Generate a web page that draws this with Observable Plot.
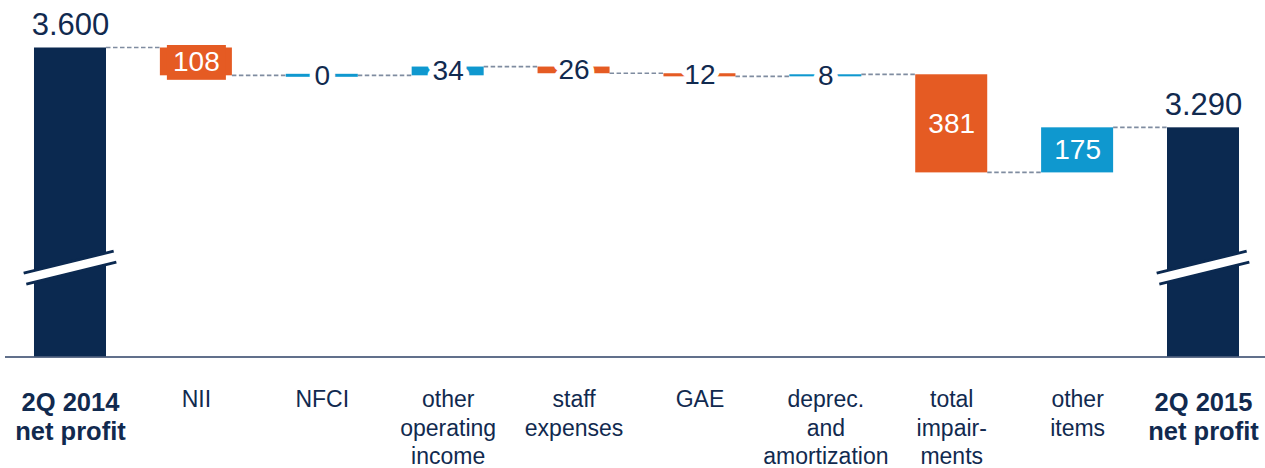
<!DOCTYPE html>
<html>
<head>
<meta charset="utf-8">
<script src="https://cdn.jsdelivr.net/npm/d3@7"></script>
<script src="https://cdn.jsdelivr.net/npm/@observablehq/plot@0.6"></script>
<style>
  html, body { margin: 0; padding: 0; background: #ffffff; }
  #chart svg { display: block; }
</style>
</head>
<body>
<div id="chart"></div>
<script>
// ---- data ----
const categories = ["2Q 2014 net profit", "NII", "NFCI", "other operating income", "staff expenses", "GAE", "deprec. and amortization", "total impairments", "other items", "2Q 2015 net profit"];
const tickLabels = ["2Q 2014\nnet profit", "NII", "NFCI", "other\noperating\nincome", "staff\nexpenses", "GAE", "deprec.\nand\namortization", "total\nimpair-\nments", "other\nitems", "2Q 2015\nnet profit"];
const kinds = ["total", "delta", "delta", "delta", "delta", "delta", "delta", "delta", "delta", "total"];
const values = [3600, -108, 0, 34, -26, -12, 8, -381, 175, 3290];
const axisBreakFloor = [2400];
const breakLevel = [2745];
const boxedLabels = ["NII"];

// ---- colours / fonts ----
const NAVY = "#0b2950";
const ORANGE = "#e55b23";
const BLUE = "#0f98cf";
const DASH = "#7f8ca0";
const TEXT = "#112a4f";
const FONT = "'Liberation Sans', Arial, Helvetica, sans-serif";

// ---- build waterfall rows ----
const fmt = d3.formatLocale({decimal: ",", thousands: ".", grouping: [3], currency: ["", ""]}).format(",");
let running = 0;
const rows = categories.map((cat, i) => {
  const v = values[i];
  let y1, y2;
  if (kinds[i] === "total") { y1 = axisBreakFloor[0]; y2 = v; running = v; }
  else { y1 = running; y2 = running + v; running = y2; }
  return {
    cat, label: tickLabels[i], kind: kinds[i], value: v, y1, y2, end: running,
    mid: (y1 + y2) / 2,
    fill: kinds[i] === "total" ? NAVY : (v < 0 ? ORANGE : BLUE),
    text: kinds[i] === "total" ? fmt(v) : String(Math.abs(v)),
    big: kinds[i] === "delta" && Math.abs(v) >= 100
  };
});
const totals = rows.filter(d => d.kind === "total");
const bigDeltas = rows.filter(d => d.big);
const smallDeltas = rows.filter(d => d.kind === "delta" && !d.big);
const zeroDeltas = rows.filter(d => d.kind === "delta" && d.value === 0);
const boxed = rows.filter(d => boxedLabels.includes(d.cat));
const boldRows = totals;
const plainRows = rows.filter(d => d.kind !== "total");

function bw(x) { return typeof x.bandwidth === "function" ? x.bandwidth() : x.bandwidth; }

// dashed connectors between bar edges
function connectors(index, scales) {
  const {x, y} = scales;
  const w = bw(x);
  const g = d3.create("svg:g")
    .attr("stroke", DASH).attr("stroke-width", 1.7).attr("stroke-dasharray", "4.5,2.5");
  for (let i = 0; i < rows.length - 1; i++) {
    const yy = y(rows[i].end);
    g.append("line")
      .attr("x1", x(rows[i].cat) + w).attr("x2", x(rows[i + 1].cat))
      .attr("y1", yy).attr("y2", yy);
  }
  return g.node();
}

// axis-break marks on the total bars
function breaks(index, scales) {
  const {x, y} = scales;
  const w = bw(x);
  const yc = y(breakLevel[0]);
  const g = d3.create("svg:g");
  for (const d of totals) {
    const x0 = x(d.cat) - 9, x1 = x(d.cat) + w + 9;
    g.append("line").attr("x1", x0).attr("x2", x1).attr("y1", yc + 11).attr("y2", yc - 11)
      .attr("stroke", NAVY).attr("stroke-width", 14);
    g.append("line").attr("x1", x0 - 1).attr("x2", x1 + 1).attr("y1", yc + 11.25).attr("y2", yc - 11.25)
      .attr("stroke", "#ffffff").attr("stroke-width", 8.5);
  }
  return g.node();
}

const chart = Plot.plot({
  width: 1265,
  height: 468,
  marginTop: 47.5,
  marginBottom: 111.5,
  marginLeft: 5,
  marginRight: -3,
  style: {fontFamily: FONT, background: "#ffffff"},
  x: {domain: categories, paddingInner: 0.428, paddingOuter: 0.2303, round: false, axis: null},
  y: {domain: [axisBreakFloor[0], 3600], axis: null},
  marks: [
    connectors,
    Plot.barY(rows, {x: "cat", y1: "y1", y2: "y2", fill: "fill", inset: 0}),
    Plot.barY(zeroDeltas, {x: "cat", y1: "y1", y2: "y2", fill: "fill", inset: 0, insetTop: -1.5, insetBottom: -1.5}),
    Plot.barY(boxed, {x: "cat", y1: "y1", y2: "y2", fill: "fill", insetLeft: 7, insetRight: 6, insetTop: -2.5, insetBottom: -4.5}),
    breaks,
    Plot.ruleY(axisBreakFloor, {stroke: "#2c4164", strokeWidth: 1.6}),
    Plot.text(totals, {x: "cat", y: "y2", text: "text", dy: -23, lineAnchor: "middle", fontSize: 31, fill: TEXT}),
    Plot.text(bigDeltas, {x: "cat", y: "mid", text: "text", lineAnchor: "middle", fontSize: 28, fill: "#ffffff"}),
    Plot.text(smallDeltas, {x: "cat", y: "mid", text: "text", lineAnchor: "middle", fontSize: 28, fill: TEXT,
      stroke: "#ffffff", strokeWidth: 12, strokeLinejoin: "round", paintOrder: "stroke"}),
    Plot.text(plainRows, {x: "cat", text: "label", frameAnchor: "bottom", lineAnchor: "top", dy: 30, fontSize: 23, lineHeight: 1.24, fill: TEXT}),
    Plot.text(boldRows, {x: "cat", text: "label", frameAnchor: "bottom", lineAnchor: "top", dy: 33, fontSize: 25.5, lineHeight: 1.14, fontWeight: "bold", fill: TEXT})
  ]
});
document.getElementById("chart").appendChild(chart);
</script>
</body>
</html>
